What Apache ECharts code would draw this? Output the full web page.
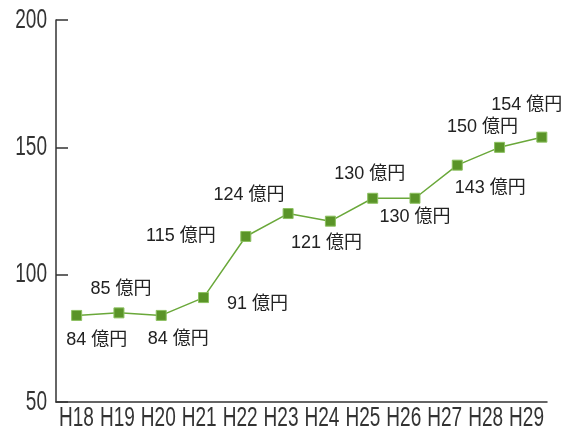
<!DOCTYPE html>
<html>
<head>
<meta charset="utf-8">
<script src="https://cdn.jsdelivr.net/npm/echarts@6/dist/echarts.min.js"></script>
<style>html,body{margin:0;padding:0;background:#fff;}#c{width:581px;height:432px;}</style>
</head>
<body>
<div id="c"></div>
<script>
const categories = ['H18','H19','H20','H21','H22','H23','H24','H25','H26','H27','H28','H29'];
const values = [84, 85, 84, 91, 115, 124, 121, 130, 130, 143, 150, 154];
const yTicks = [50, 100, 150, 200];
// label placement offsets (px) relative to each point
const labelOffsets = [[20,25],[2,-24],[17,24],[54,6],[-65,0],[-39,-19],[-4,22],[-3,-24],[0,19],[33,23],[-17,-20],[-15,-32]];

const chart = echarts.init(document.getElementById('c'), null, {renderer:'canvas'});
const axisFont = '"Liberation Sans", Arial, sans-serif';
const yMin = yTicks[0], yMax = yTicks[yTicks.length-1];
chart.setOption({
  animation:false,
  grid:[
    {left:56, right:34, top:20, bottom:30, containLabel:false},
    {left:55.5, right:18, top:20, bottom:30, containLabel:false}
  ],
  xAxis:[{
    type:'category', data:categories, boundaryGap:true, gridIndex:0,
    axisLine:{lineStyle:{color:'#333', width:1.5}},
    axisTick:{inside:true, length:10, alignWithLabel:false, lineStyle:{color:'#333', width:1.5}},
    axisLabel:{show:false}
  },{
    type:'category', data:categories, boundaryGap:true, gridIndex:1, show:false
  }],
  yAxis:[{
    type:'value', min:yMin, max:yMax, interval:50, gridIndex:0,
    axisLine:{show:true, lineStyle:{color:'#333', width:1.5}},
    axisTick:{show:true, inside:true, length:12, lineStyle:{color:'#333', width:1.5}},
    splitLine:{show:false},
    axisLabel:{show:false}
  },{
    type:'value', min:yMin, max:yMax, interval:50, gridIndex:1, show:false, splitLine:{show:false}
  }],
  series:[{
    type:'line', xAxisIndex:1, yAxisIndex:1,
    data: values.map((v,i)=>({
      value:v,
      label:{show:true, position:'inside', offset:labelOffsets[i]}
    })),
    symbol:'rect', symbolSize:10,
    itemStyle:{color:'#5a9428', borderColor:'#8cc060', borderWidth:1},
    lineStyle:{color:'#6aa83a', width:1.5},
    label:{
      show:true, position:'inside',
      formatter:p=>p.value+' 億円',
      color:'#222', fontSize:18,
      fontFamily:'"Liberation Sans","Noto Sans CJK JP",sans-serif',
      align:'center', verticalAlign:'middle'
    }
  }]
});

// Condensed-looking axis labels, placed through the axes' own scales
const graphics = [];
const xAxisY = chart.convertToPixel({yAxisIndex:0}, yMin);
categories.forEach(c => {
  const px = chart.convertToPixel({xAxisIndex:0}, c);
  graphics.push({type:'text', x:px, y:xAxisY + 16, scaleX:0.68, silent:true,
    style:{text:c, fontSize:28, fontFamily:axisFont, fill:'#333', align:'center', verticalAlign:'middle'}});
});
const x0 = chart.convertToPixel({xAxisIndex:0}, categories[0]);
const x1 = chart.convertToPixel({xAxisIndex:0}, categories[1]);
const yAxisX = x0 - (x1 - x0) / 2;
yTicks.forEach(t => {
  const py = chart.convertToPixel({yAxisIndex:0}, t);
  graphics.push({type:'text', x:yAxisX - 9, y:py, scaleX:0.68, silent:true,
    style:{text:String(t), fontSize:28, fontFamily:axisFont, fill:'#333', align:'right', verticalAlign:'middle'}});
});
chart.setOption({graphic:graphics});
</script>
</body>
</html>
